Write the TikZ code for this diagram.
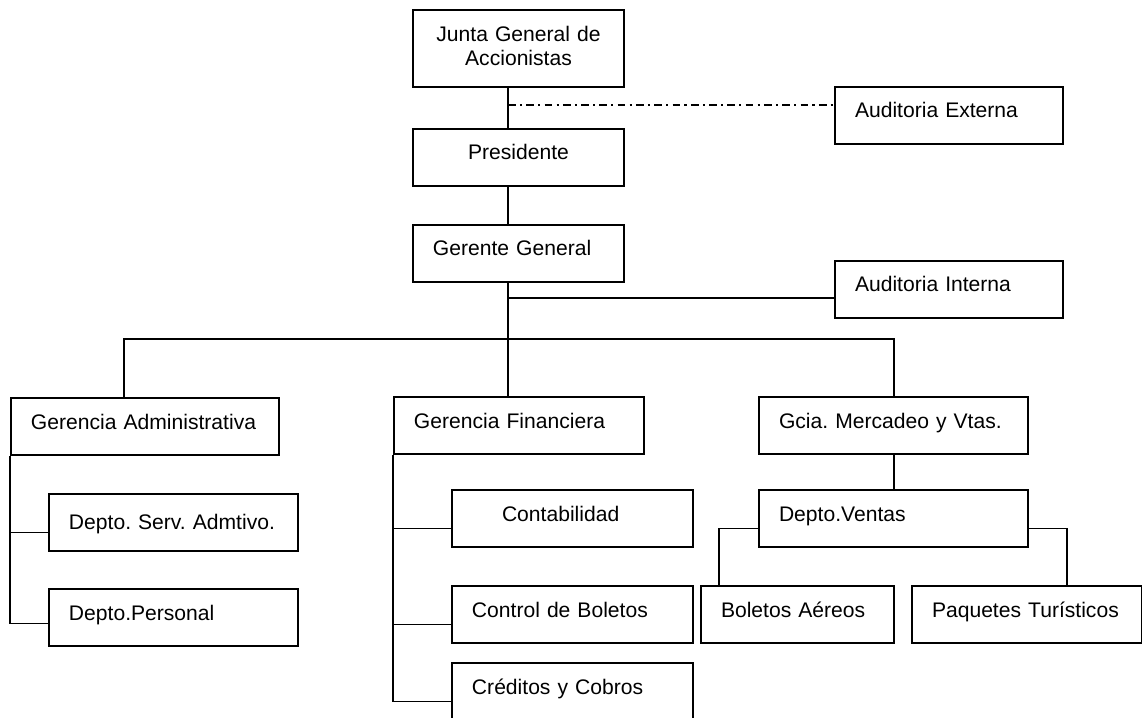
\documentclass[tikz,border=0pt]{standalone}
\usepackage{fontspec}
\setmainfont{Liberation Sans}
\usetikzlibrary{positioning}

\begin{document}
\frenchspacing
\hyphenpenalty=10000
\begin{tikzpicture}[x=0.025cm, y=-0.025cm,
    box/.style={
        draw, line width=1.4pt, anchor=north west,
        inner xsep=0.5cm, inner ysep=0pt,
        text height=0.775cm, text depth=0.65cm,
        align=left, font=\fontsize{15}{17}\selectfont
    },
    link/.style={line width=1.4pt},
    extlink/.style={line width=1.4pt, dash pattern=on 5.5pt off 3pt on 1.5pt off 3pt}
]
\useasboundingbox (0,0) rectangle (1142,717);

% Top levels
\node[box, text width=4.275cm, align=center, text height=0.79cm, text depth=1.135cm] (junta) at (412,9) {Junta General de\\Accionistas};
\node[box, text width=4.275cm, align=center] (pres) at (412,128) {Presidente};
\node[box, text width=4.275cm] (ger) at (412,224) {Gerente General};

% Auditors
\node[box, text width=4.7cm] (audext) at (834,86) {Auditoria Externa};
\node[box, text width=4.7cm] (audint) at (834,260) {Auditoria Interna};

% Managements
\node[box, text width=5.7cm] (gadm) at (10,397) {Gerencia Administrativa};
\node[box, text width=5.25cm] (gfin) at (393,396) {Gerencia Financiera};
\node[box, text width=5.725cm] (gmer) at (758,396) {Gcia. Mercadeo y Vtas.};

% Departments
\node[box, text width=5.225cm, text height=0.875cm, text depth=0.55cm] (serv) at (48,493) {Depto. Serv. Admtivo.};
\node[box, text width=5.225cm] (pers) at (48,588) {Depto.Personal};
\node[box, text width=5.025cm] (cont) at (451,489) {\hspace*{0.75cm}Contabilidad};
\node[box, text width=5.025cm] (ctrl) at (451,585) {Control de Boletos};
\node[box, text width=5.025cm] (cred) at (451,662) {Créditos y Cobros};
\node[box, text width=5.725cm] (vent) at (758,489) {Depto.Ventas};
\node[box, text width=3.825cm] (bol) at (700,585) {Boletos Aéreos};
\node[box, text width=4.75cm] (paq) at (911,585) {Paquetes Turísticos};

% Joints
\coordinate (spine) at (508,0);
\coordinate (extjoin) at (508,105);
\coordinate (intjoin) at (508,298);
\coordinate (admdrop) at (124,339);

% Main line
\draw[link] (junta.south -| spine) -- (pres.north -| spine);
\draw[link] (pres.south -| spine) -- (ger.north -| spine);
\draw[link] (ger.south -| spine) -- (gfin.north -| spine);
\draw[extlink] (extjoin) -- (extjoin -| audext.west);
\draw[link] (intjoin) -- (intjoin -| audint.west);

% Bus to managements
\draw[link] (admdrop |- gadm.north) -- (admdrop) -| (gmer.north);

% Administrative branch
\draw[link] (gadm.south west) |- ([yshift=-0.15cm]pers.west);
\draw[link] ([yshift=-0.25cm]serv.west) -- ([yshift=-0.25cm]serv.west -| gadm.west);

% Financial branch
\draw[link] (gfin.south west) |- ([yshift=-0.25cm]cred.west);
\draw[link] ([yshift=-0.25cm]cont.west) -- ([yshift=-0.25cm]cont.west -| gfin.west);
\draw[link] ([yshift=-0.25cm]ctrl.west) -- ([yshift=-0.25cm]ctrl.west -| gfin.west);

% Sales branch
\draw[link] (gmer.south) -- (vent.north);
\draw[link] ([yshift=-0.25cm]vent.west) -| ([xshift=0.475cm]bol.north west);
\draw[link] ([yshift=-0.25cm]vent.east) -| ([xshift=-1.9cm]paq.north east);

\end{tikzpicture}
\end{document}
